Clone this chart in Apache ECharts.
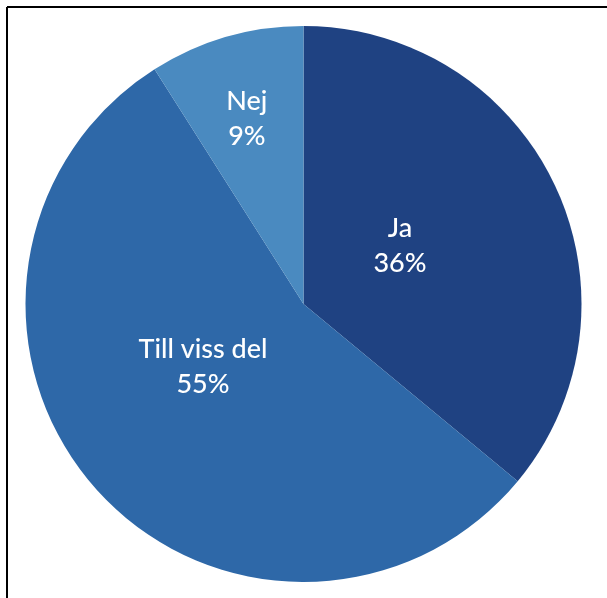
<!DOCTYPE html>
<html>
<head>
<meta charset="utf-8">
<script src="https://cdn.jsdelivr.net/npm/echarts@6/dist/echarts.min.js"></script>
<style>
html,body{margin:0;padding:0;background:#fff;}
#chart{width:607px;height:598px;}
</style>
</head>
<body>
<div id="chart"></div>
<script>
const categories = ['Ja', 'Till viss del', 'Nej'];
const values = [36, 55, 9];
const colors = ['#1F4282', '#2E68A8', '#4A8AC0'];

const labelShift = [[-32, 2], [6, -31], [-17, -49]];

const chart = echarts.init(document.getElementById('chart'), null, {renderer: 'canvas'});
chart.setOption({
  animation: false,
  backgroundColor: '#fff',
  graphic: [
    {type: 'line', shape: {x1: 7, y1: 7, x2: 607, y2: 7}, style: {stroke: '#000', lineWidth: 2}},
    {type: 'line', shape: {x1: 7, y1: 7, x2: 7, y2: 598}, style: {stroke: '#000', lineWidth: 2}}
  ],
  series: [{
    type: 'pie',
    center: [303.5, 304],
    radius: [0, 278],
    startAngle: 90,
    clockwise: true,
    avoidLabelOverlap: false,
    data: categories.map((c, i) => ({name: c, value: values[i], itemStyle: {color: colors[i]}})),
    itemStyle: {borderWidth: 0},
    label: {
      show: true,
      position: 'inside',
      formatter: p => p.name + '\n' + p.value + '%',
      color: '#fff',
      fontFamily: 'Lato',
      fontSize: 27,
      fontWeight: 500,
      lineHeight: 35,
      align: 'center'
    },
    labelLine: {show: false},
    labelLayout: p => ({dx: labelShift[p.dataIndex][0], dy: labelShift[p.dataIndex][1]}),
    emphasis: {disabled: true}
  }]
});
</script>
</body>
</html>
